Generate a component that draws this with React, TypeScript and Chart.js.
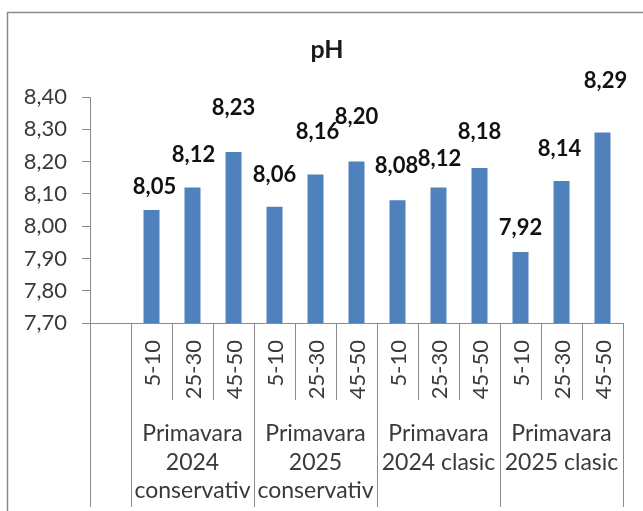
import React, { useEffect, useRef } from "react";
import { Chart, registerables } from "chart.js";

Chart.register(...registerables);

// ---- data ----
const depthLabels = ["5-10", "25-30", "45-50"];
const groupLabels: string[][] = [
  ["Primavara", "2024", "conservativ"],
  ["Primavara", "2025", "conservativ"],
  ["Primavara", "2024 clasic"],
  ["Primavara", "2025 clasic"],
];
// first slot is an empty category (as in the source chart)
const categories: string[] = ["", ...groupLabels.flatMap(() => depthLabels)];
const phValues: (number | null)[] = [
  null,
  8.05, 8.12, 8.23,
  8.06, 8.16, 8.2,
  8.08, 8.12, 8.18,
  7.92, 8.14, 8.29,
];
const yMin = 7.7;
const yMax = 8.4;
const yStep = 0.1;
const chartTitle = "pH";

// ---- label nudges (px, relative to bar top) ----
const labelLift = [0, 16, 25, 37, 25, 35, 38, 27, 21, 29, 17, 25, 45];
const labelShift = [0, 3, 1, 0, 0, 2, 0, -1, 1, 0, 0, -2, 3];

const FONT = "Lato, 'Open Sans', sans-serif";
const TEXT = "#3a3a3a";
const AXIS = "#8c8c8c";
const BAR = "#4F81BD";

const fmt = (v: number) => v.toFixed(2).replace(".", ",");

const decor = {
  id: "decor",
  beforeDraw(chart: any) {
    const { ctx, width, height } = chart;
    ctx.save();
    ctx.fillStyle = "#ffffff";
    ctx.fillRect(0, 0, width, height);
    // outer frame
    ctx.strokeStyle = "#8a8a8a";
    ctx.lineWidth = 1.5;
    ctx.beginPath();
    ctx.moveTo(7.5, height);
    ctx.lineTo(7.5, 12.5);
    ctx.lineTo(width, 12.5);
    ctx.stroke();
    // title
    ctx.fillStyle = "#1a1a1a";
    ctx.font = `bold 25px ${FONT}`;
    ctx.textAlign = "center";
    ctx.textBaseline = "alphabetic";
    ctx.fillText(chartTitle, 327, 58);
    ctx.restore();
  },
  afterDraw(chart: any) {
    const { ctx, chartArea } = chart;
    const xs = chart.scales.x;
    const half = (xs.getPixelForValue(1) - xs.getPixelForValue(0)) / 2;
    const top = chartArea.bottom;
    const shortEnd = 400;
    const longEnd = 507;
    ctx.save();
    ctx.strokeStyle = AXIS;
    ctx.lineWidth = 1;
    const vline = (x: number, y2: number) => {
      const px = Math.round(x) + 0.5;
      ctx.beginPath();
      ctx.moveTo(px, top);
      ctx.lineTo(px, y2);
      ctx.stroke();
    };
    // y-axis extension
    vline(chartArea.left, longEnd);
    // slot boundaries
    for (let i = 0; i < categories.length; i++) {
      const right = xs.getPixelForValue(i) + half;
      const inGroup = i - 1;
      const isGroupEnd = i === 0 || (inGroup + 1) % depthLabels.length === 0;
      vline(right, isGroupEnd ? longEnd : shortEnd);
    }
    // rotated depth labels
    ctx.fillStyle = TEXT;
    ctx.font = `22px ${FONT}`;
    for (let i = 1; i < categories.length; i++) {
      const cx = xs.getPixelForValue(i);
      ctx.save();
      ctx.translate(cx + 8, top + 17);
      ctx.rotate(-Math.PI / 2);
      ctx.textAlign = "right";
      ctx.textBaseline = "alphabetic";
      ctx.fillText(categories[i], 0, 0);
      ctx.restore();
    }
    // group labels
    ctx.font = `23px ${FONT}`;
    ctx.textAlign = "center";
    ctx.textBaseline = "alphabetic";
    groupLabels.forEach((lines, g) => {
      const first = 1 + g * depthLabels.length;
      const last = first + depthLabels.length - 1;
      const cx = (xs.getPixelForValue(first) + xs.getPixelForValue(last)) / 2;
      lines.forEach((t, k) => ctx.fillText(t, cx, 441 + k * 28.5));
    });
    ctx.restore();
  },
  afterDatasetsDraw(chart: any) {
    const { ctx } = chart;
    const meta = chart.getDatasetMeta(0);
    ctx.save();
    ctx.fillStyle = "#111111";
    ctx.font = `bold 22px ${FONT}`;
    ctx.textAlign = "center";
    ctx.textBaseline = "alphabetic";
    meta.data.forEach((bar: any, i: number) => {
      const v = phValues[i];
      if (v == null) return;
      ctx.fillText(fmt(v), bar.x + labelShift[i], bar.y - labelLift[i]);
    });
    ctx.restore();
  },
};

export default function App() {
  const ref = useRef<HTMLCanvasElement>(null);
  useEffect(() => {
    const chart = new Chart(ref.current!, {
      type: "bar",
      data: {
        labels: categories,
        datasets: [
          {
            data: phValues,
            backgroundColor: BAR,
            barPercentage: 0.39,
            categoryPercentage: 1,
          },
        ],
      },
      options: {
        responsive: false,
        animation: false,
        layout: { padding: { left: 0, top: 97, right: 20, bottom: 0 } },
        plugins: {
          legend: { display: false },
          tooltip: { enabled: false },
          title: { display: false },
        },
        scales: {
          x: {
            ticks: { display: false },
            grid: { display: false },
            border: { display: true, color: AXIS },
            afterFit: (s: any) => {
              s.height = 188;
            },
          },
          y: {
            min: yMin,
            max: yMax,
            ticks: {
              stepSize: yStep,
              callback: (v: any) => fmt(Number(v)),
              font: { family: FONT, size: 22 },
              color: TEXT,
              padding: 15,
            },
            grid: { drawOnChartArea: false, tickLength: 8, color: AXIS },
            border: { display: true, color: AXIS },
            afterFit: (s: any) => {
              s.width = 90;
            },
          },
        },
      } as any,
      plugins: [decor],
    });
    return () => chart.destroy();
  }, []);
  return (
    <div style={{ position: "fixed", left: 0, top: 0, width: 643, height: 511, background: "#fff" }}>
      <canvas ref={ref} width={643} height={511} style={{ display: "block" }} />
    </div>
  );
}
